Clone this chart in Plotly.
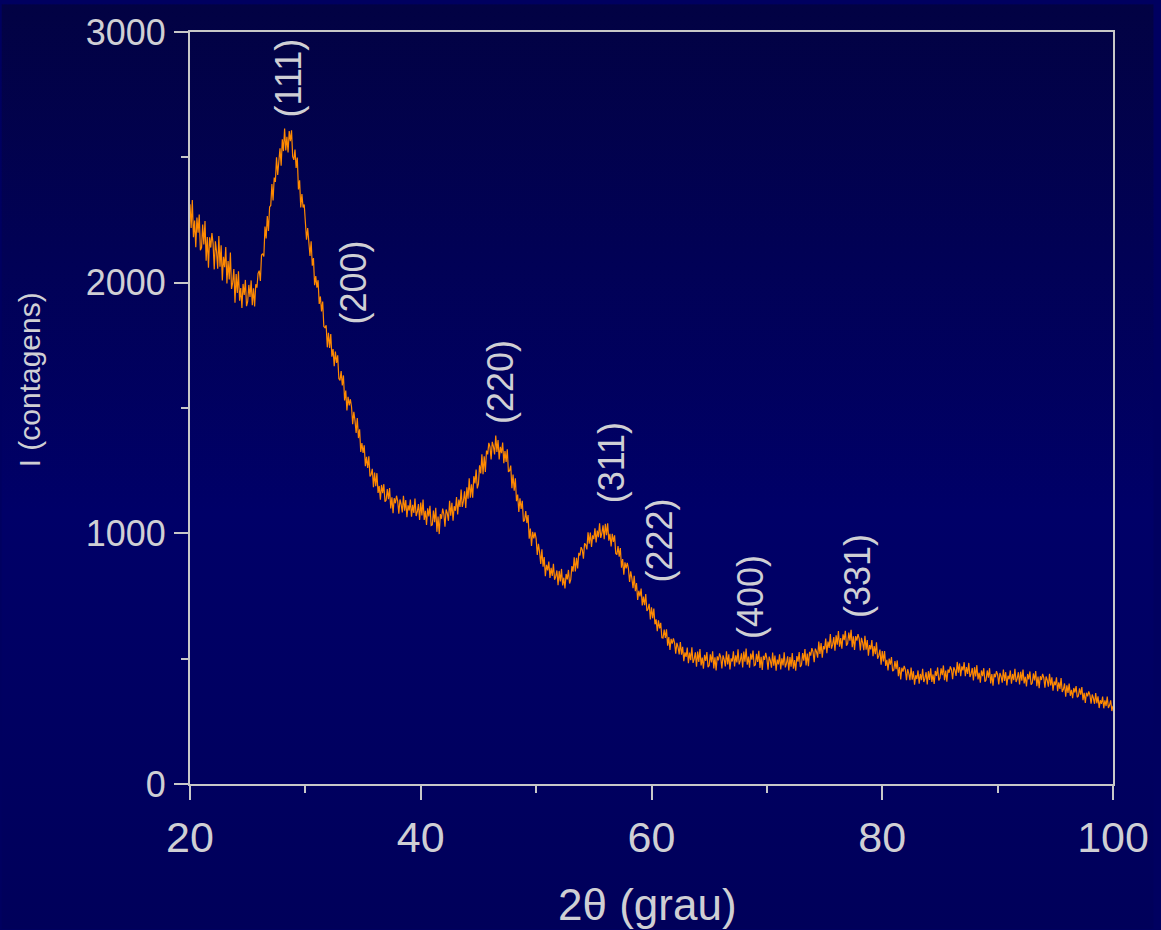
import base64
import plotly.graph_objects as go

# ---- data (0.1 degree steps) ----
two_theta_start = 20.0
two_theta_step = 0.1
intensity = [
    2313, 2218, 2330, 2181, 2248, 2141, 2260, 2199, 2272, 2129,  # 20
    2140, 2232, 2152, 2246, 2088, 2182, 2060, 2181, 2140, 2198,  # 21
    2157, 2053, 2165, 2124, 2056, 2186, 2064, 2149, 2009, 2103,  # 22
    2062, 2142, 1997, 2086, 2013, 2120, 1975, 2001, 2054, 1920,  # 23
    2034, 1959, 2045, 1928, 1979, 1899, 1995, 1951, 2011, 1906,  # 24
    1925, 1991, 1943, 2009, 1910, 1978, 1905, 1994, 1980, 2037,  # 25
    2048, 2007, 2110, 2116, 2104, 2224, 2176, 2266, 2206, 2302,  # 26
    2308, 2393, 2328, 2419, 2402, 2500, 2430, 2474, 2536, 2467,  # 27
    2572, 2525, 2615, 2527, 2582, 2519, 2605, 2564, 2608, 2503,  # 28
    2490, 2531, 2458, 2499, 2372, 2408, 2300, 2354, 2300, 2312,  # 29
    2257, 2171, 2218, 2171, 2107, 2165, 2068, 2098, 1990, 2026,  # 30
    1980, 2010, 1915, 1945, 1885, 1925, 1825, 1820, 1830, 1742,  # 31
    1800, 1740, 1795, 1705, 1735, 1667, 1725, 1680, 1710, 1617,  # 32
    1610, 1647, 1590, 1630, 1530, 1570, 1490, 1545, 1510, 1535,  # 33
    1505, 1435, 1485, 1450, 1400, 1460, 1380, 1415, 1325, 1360,  # 34
    1321, 1351, 1268, 1305, 1261, 1307, 1227, 1235, 1257, 1184,  # 35
    1242, 1188, 1240, 1161, 1189, 1134, 1193, 1160, 1196, 1126,  # 36
    1132, 1177, 1136, 1181, 1099, 1144, 1080, 1140, 1120, 1150,  # 37
    1129, 1078, 1135, 1116, 1083, 1150, 1090, 1133, 1064, 1112,  # 38
    1091, 1135, 1066, 1114, 1081, 1139, 1069, 1086, 1117, 1053,  # 39
    1123, 1071, 1135, 1053, 1090, 1033, 1100, 1067, 1110, 1031,  # 40
    1034, 1091, 1044, 1102, 1006, 1067, 997, 1077, 1058, 1099,   # 41
    1077, 1026, 1095, 1080, 1050, 1130, 1070, 1122, 1050, 1108,  # 42
    1090, 1145, 1075, 1135, 1105, 1175, 1105, 1129, 1168, 1101,  # 43
    1184, 1138, 1220, 1142, 1196, 1142, 1228, 1199, 1254, 1179,  # 44
    1197, 1271, 1239, 1315, 1236, 1307, 1245, 1330, 1315, 1361,  # 45
    1345, 1295, 1365, 1347, 1315, 1390, 1325, 1372, 1295, 1345,  # 46
    1320, 1362, 1280, 1328, 1285, 1335, 1245, 1250, 1270, 1180,  # 47
    1235, 1170, 1220, 1128, 1155, 1085, 1140, 1097, 1130, 1047,  # 48
    1052, 1089, 1041, 1073, 979, 1019, 950, 1006, 980, 1004,     # 49
    979, 914, 958, 925, 878, 936, 867, 905, 829, 874,            # 50
    852, 887, 822, 862, 830, 878, 815, 828, 852, 793,            # 51
    850, 808, 858, 792, 823, 780, 838, 816, 854, 800,            # 52
    815, 869, 847, 904, 848, 902, 860, 922, 912, 945,            # 53
    934, 899, 960, 954, 936, 1004, 959, 1003, 946, 992,          # 54
    977, 1020, 964, 1011, 985, 1040, 982, 1001, 1032, 977,       # 55
    1038, 993, 1040, 971, 998, 948, 998, 966, 992, 920,          # 56
    915, 949, 907, 941, 863, 897, 835, 884, 860, 882,            # 57
    860, 806, 848, 820, 781, 831, 769, 802, 734, 771,            # 58
    748, 780, 712, 748, 713, 758, 690, 698, 719, 656,            # 59
    705, 661, 700, 637, 657, 610, 653, 621, 643, 583,            # 60
    582, 616, 583, 617, 552, 586, 535, 579, 560, 581,            # 61
    563, 520, 563, 546, 517, 566, 516, 547, 490, 525,            # 62
    507, 544, 482, 524, 494, 545, 483, 498, 525, 468,            # 63
    528, 487, 538, 473, 504, 460, 515, 491, 526, 466,            # 64
    473, 517, 485, 529, 461, 505, 453, 509, 493, 521,            # 65
    505, 461, 513, 497, 469, 529, 477, 517, 457, 501,            # 66
    489, 529, 469, 513, 485, 537, 477, 493, 521, 465,            # 67
    528, 488, 540, 476, 508, 464, 520, 496, 532, 472,            # 68
    475, 519, 487, 531, 463, 507, 455, 511, 495, 523,            # 69
    500, 456, 508, 492, 464, 524, 472, 512, 452, 496,            # 70
    477, 517, 457, 501, 473, 525, 465, 481, 509, 453,            # 71
    506, 468, 522, 460, 494, 452, 510, 488, 526, 467,            # 72
    475, 522, 492, 538, 473, 520, 470, 527, 512, 542,            # 73
    527, 486, 540, 528, 504, 568, 519, 562, 504, 550,            # 74
    537, 580, 522, 568, 543, 598, 540, 557, 586, 532,            # 75
    593, 556, 610, 548, 582, 540, 597, 574, 611, 552,            # 76
    560, 604, 572, 615, 546, 589, 535, 590, 572, 598,            # 77
    580, 533, 583, 564, 534, 591, 536, 574, 512, 554,            # 78
    537, 574, 510, 550, 518, 565, 500, 512, 536, 476,            # 79
    530, 489, 530, 471, 495, 453, 500, 476, 506, 450,            # 80
    455, 490, 458, 493, 430, 466, 417, 464, 448, 471,            # 81
    456, 414, 458, 441, 414, 465, 416, 450, 396, 434,            # 82
    419, 453, 400, 439, 414, 460, 407, 421, 446, 397,            # 83
    450, 415, 462, 407, 437, 399, 451, 431, 465, 413,            # 84
    422, 461, 434, 473, 414, 453, 408, 457, 444, 469,            # 85
    456, 418, 466, 454, 431, 487, 444, 481, 430, 469,            # 86
    453, 486, 430, 466, 439, 483, 427, 439, 463, 413,            # 87
    466, 429, 474, 417, 444, 404, 453, 430, 462, 408,            # 88
    415, 453, 424, 462, 401, 439, 392, 440, 426, 450,            # 89
    436, 397, 443, 429, 404, 457, 411, 446, 393, 432,            # 90
    418, 453, 400, 439, 414, 460, 407, 421, 446, 397,            # 91
    448, 412, 457, 401, 428, 389, 439, 417, 449, 396,            # 92
    403, 441, 413, 451, 390, 429, 382, 430, 415, 439,            # 93
    424, 384, 429, 414, 388, 440, 393, 426, 372, 409,            # 94
    394, 426, 370, 406, 379, 423, 367, 378, 401, 348,            # 95
    394, 363, 401, 352, 376, 342, 383, 365, 391, 346,            # 96
    351, 382, 356, 387, 334, 364, 323, 364, 350, 369,            # 97
    355, 320, 357, 343, 320, 363, 322, 350, 303, 334,            # 98
    320, 349, 302, 334, 311, 349, 303, 314, 334, 291,            # 99
    312,                                                         # 100
]
two_theta = [round(two_theta_start + i * two_theta_step, 2) for i in range(len(intensity))]

peak_labels = ["(111)", "(200)", "(220)", "(311)", "(222)", "(400)", "(331)"]
peak_label_x = [28.5, 34.2, 46.9, 56.5, 60.7, 68.6, 77.9]
peak_label_y = [2815, 2000, 1605, 1280, 970, 745, 830]

x_tick_vals = [20, 40, 60, 80, 100]
y_tick_vals = [0, 1000, 2000, 3000]

# ---- styling ----
W, H = 1161, 930
ML, MR, MT, MB = 190, 41, 28, 146
pw, ph = W - ML - MR, H - MT - MB
axis_col = "#c8c8c8"
text_col = "#cfcfd4"
font_fam = "Liberation Sans, Arial, sans-serif"

svg = (
    '<svg xmlns="http://www.w3.org/2000/svg" width="100" height="100" preserveAspectRatio="none">'
    '<defs><linearGradient id="g" x1="0" y1="0" x2="0" y2="1">'
    '<stop offset="0" stop-color="#020243"/>'
    '<stop offset="0.55" stop-color="#000068"/>'
    '<stop offset="1" stop-color="#00005a"/>'
    '</linearGradient></defs>'
    '<rect width="100" height="100" fill="url(#g)"/></svg>'
)
bg_src = "data:image/svg+xml;base64," + base64.b64encode(svg.encode()).decode()

fig = go.Figure()
fig.add_trace(go.Scatter(
    x=two_theta, y=intensity, mode="lines",
    line=dict(color="#ff8a00", width=1.2),
    showlegend=False, hoverinfo="skip",
))

for lab, lx, ly in zip(peak_labels, peak_label_x, peak_label_y):
    fig.add_annotation(x=lx, y=ly, text=lab, textangle=-90, showarrow=False,
                       xanchor="center", yanchor="middle",
                       font=dict(size=36, color=text_col, family=font_fam))

fig.add_annotation(xref="paper", yref="paper",
                   x=(651 - ML) / pw, y=(H - MB - 905) / ph,
                   text="2θ (grau)", showarrow=False, xanchor="center", yanchor="middle",
                   font=dict(size=44, color=text_col, family=font_fam))
fig.add_annotation(xref="paper", yref="paper",
                   x=(28 - ML) / pw, y=(H - MB - 378) / ph,
                   text="I (contagens)", textangle=-90, showarrow=False,
                   xanchor="center", yanchor="middle",
                   font=dict(size=30, color=text_col, family=font_fam))

fig.add_layout_image(dict(
    source=bg_src, xref="paper", yref="paper",
    x=-ML / pw, y=1 + MT / ph, sizex=W / pw, sizey=H / ph,
    xanchor="left", yanchor="top", sizing="stretch", layer="below",
))

fig.update_layout(
    width=W, height=H,
    margin=dict(l=ML, r=MR, t=MT, b=MB, pad=0),
    paper_bgcolor="#000060",
    plot_bgcolor="rgba(0,0,0,0)",
    font=dict(family=font_fam, color=text_col),
)
fig.update_xaxes(
    range=[20, 100], tickvals=x_tick_vals, showgrid=False, zeroline=False,
    showline=True, linecolor=axis_col, linewidth=2, mirror=True,
    ticks="outside", ticklen=14, tickwidth=2, tickcolor=axis_col,
    tickfont=dict(size=43, color=text_col, family=font_fam),
    minor=dict(dtick=10, tick0=0, ticks="outside", ticklen=7, tickwidth=2,
               tickcolor=axis_col, showgrid=False),
)
fig.update_yaxes(
    range=[0, 3000], tickvals=y_tick_vals, showgrid=False, zeroline=False,
    showline=True, linecolor=axis_col, linewidth=2, mirror=True,
    ticks="outside", ticklen=14, tickwidth=2, tickcolor=axis_col,
    ticklabelstandoff=1,
    tickfont=dict(size=36, color=text_col, family=font_fam),
    minor=dict(dtick=500, tick0=0, ticks="outside", ticklen=7, tickwidth=2,
               tickcolor=axis_col, showgrid=False),
)

fig.write_html("out.html")
